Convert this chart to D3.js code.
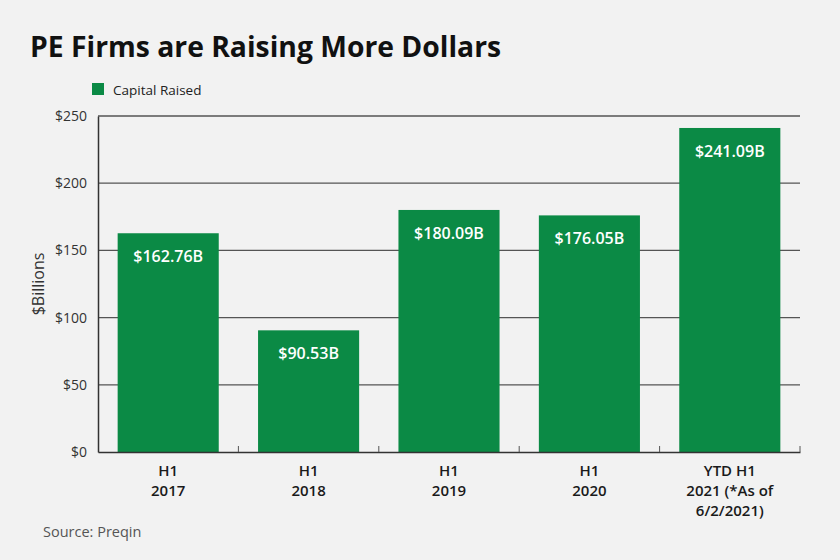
<!DOCTYPE html>
<html>
<head>
<meta charset="utf-8">
<script src="https://cdn.jsdelivr.net/npm/d3@7"></script>
<style>
  body { margin: 0; background: #f2f2f2; }
  svg { display: block; font-family: "Open Sans", Lato, sans-serif; }
</style>
</head>
<body>
<svg id="chart"></svg>
<script>
var categories = ["H1|2017", "H1|2018", "H1|2019", "H1|2020", "YTD H1|2021 (*As of|6/2/2021)"];
var capitalRaised = [162.76, 90.53, 180.09, 176.05, 241.09];
var valueLabels = ["$162.76B", "$90.53B", "$180.09B", "$176.05B", "$241.09B"];
var yTicks = [0, 50, 100, 150, 200, 250];

var width = 840,
    height = 560;
var margin = {top: 116, right: 40, bottom: 108, left: 98};
var green = '#0b8a45';

var svg = d3.select('#chart')
    .attr('width', width)
    .attr('height', height);

svg.append('rect')
  .attr('width', width)
  .attr('height', height)
  .attr('fill', '#f2f2f2');

var x = d3.scaleBand()
    .domain(categories)
    .range([margin.left, width - margin.right])
    .paddingInner(0.28)
    .paddingOuter(0.14);

var y = d3.scaleLinear()
    .domain([0, 250])
    .range([height - margin.bottom, margin.top]);

// title
svg.append('text')
  .text('PE Firms are Raising More Dollars')
  .attr('x', 30)
  .attr('y', 57)
  .attr('font-size', 28.3)
  .attr('font-weight', 'bold')
  .attr('fill', '#111');

// legend
svg.append('rect')
  .attr('x', 92)
  .attr('y', 83)
  .attr('width', 12)
  .attr('height', 12)
  .attr('fill', green);
svg.append('text')
  .text('Capital Raised')
  .attr('x', 113)
  .attr('y', 95)
  .attr('font-size', 13.5)
  .attr('fill', '#222');

// grid lines
svg.append('g')
  .selectAll('line')
  .data(yTicks.slice(1))
  .join('line')
    .attr('x1', margin.left)
    .attr('x2', width - margin.right)
    .attr('y1', function(d) { return y(d); })
    .attr('y2', function(d) { return y(d); })
    .attr('stroke', '#555')
    .attr('stroke-width', 1.3);

// y axis
var yAxis = svg.append('g')
  .attr('transform', 'translate(' + margin.left + ',0)')
  .call(d3.axisLeft(y).tickValues(yTicks).tickSize(0).tickPadding(11)
    .tickFormat(function(d) { return '$' + d; }));
yAxis.select('.domain').attr('stroke', '#333').attr('stroke-width', 1.5);
yAxis.selectAll('text')
  .attr('font-size', 14)
  .attr('font-family', '"Open Sans", Lato, sans-serif')
  .attr('fill', '#333');

svg.append('text')
  .text('$Billions')
  .attr('transform', 'translate(44,' + y(125) + ') rotate(-90)')
  .attr('text-anchor', 'middle')
  .attr('font-size', 16)
  .attr('fill', '#333');

// bars
svg.append('g')
  .selectAll('rect')
  .data(capitalRaised)
  .join('rect')
    .attr('x', function(d, i) { return x(categories[i]); })
    .attr('y', function(d) { return y(d); })
    .attr('width', x.bandwidth())
    .attr('height', function(d) { return y(0) - y(d); })
    .attr('fill', green);

svg.append('g')
  .selectAll('text')
  .data(capitalRaised)
  .join('text')
    .text(function(d, i) { return valueLabels[i]; })
    .attr('x', function(d, i) { return x(categories[i]) + x.bandwidth() / 2; })
    .attr('y', function(d) { return y(d) + 29; })
    .attr('text-anchor', 'middle')
    .attr('font-size', 16)
    .attr('font-weight', 600)
    .attr('fill', '#fff');

// x axis
var xAxis = svg.append('g')
  .attr('transform', 'translate(0,' + y(0) + ')')
  .call(d3.axisBottom(x).tickSize(0).tickFormat(''));
xAxis.select('.domain').attr('stroke', '#333').attr('stroke-width', 1.5);

// small ticks at category boundaries
var step = x.step();
xAxis.append('g')
  .selectAll('line')
  .data(categories)
  .join('line')
    .attr('x1', function(d) { return x(d) + x.bandwidth() / 2 + step / 2; })
    .attr('x2', function(d) { return x(d) + x.bandwidth() / 2 + step / 2; })
    .attr('y1', 0)
    .attr('y2', -6)
    .attr('stroke', '#555')
    .attr('stroke-width', 1);

var labels = svg.append('g')
  .selectAll('text')
  .data(categories)
  .join('text')
    .attr('x', function(d) { return x(d) + x.bandwidth() / 2; })
    .attr('y', 476)
    .attr('text-anchor', 'middle')
    .attr('font-size', 15)
    .attr('font-weight', 600)
    .attr('fill', '#1a1a1a');
labels.selectAll('tspan')
  .data(function(d) { return d.split('|'); })
  .join('tspan')
    .attr('x', function() { return d3.select(this.parentNode).attr('x'); })
    .attr('dy', function(d, i) { return i === 0 ? 0 : 20; })
    .text(function(d) { return d; });

// source
svg.append('text')
  .text('Source: Preqin')
  .attr('x', 43)
  .attr('y', 537)
  .attr('font-size', 14.5)
  .attr('fill', '#555');
</script>
</body>
</html>
